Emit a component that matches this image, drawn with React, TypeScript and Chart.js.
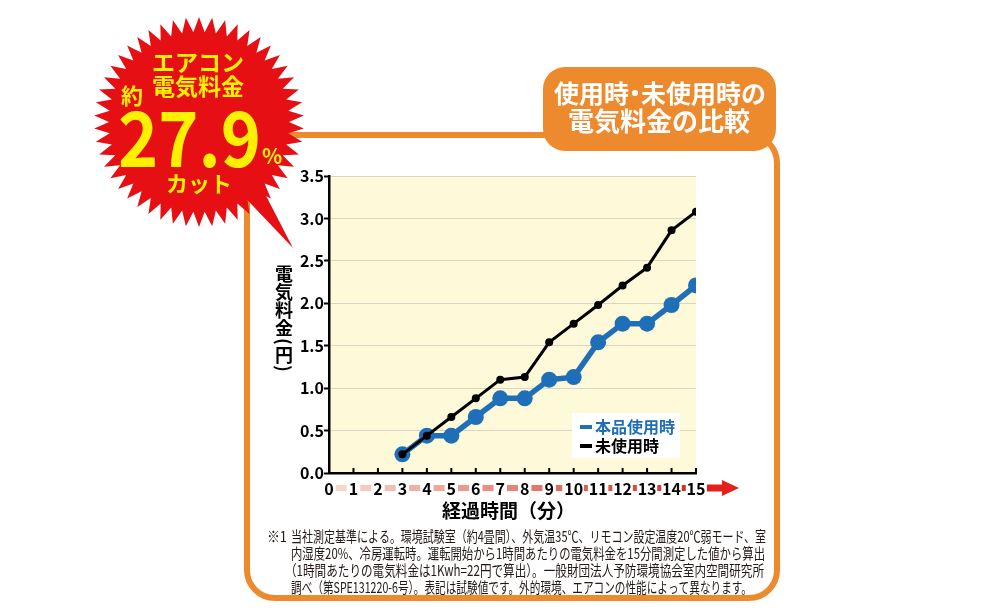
import React, { useEffect, useRef } from "react";
import { Chart, registerables } from "chart.js";

Chart.register(...registerables);

// ---- data ----
const minutes = [3, 4, 5, 6, 7, 8, 9, 10, 11, 12, 13, 14, 15];
const withProduct = [0.22, 0.44, 0.44, 0.66, 0.88, 0.88, 1.1, 1.13, 1.54, 1.76, 1.76, 1.98, 2.21];
const withoutProduct = [0.22, 0.44, 0.66, 0.88, 1.1, 1.13, 1.54, 1.76, 1.98, 2.21, 2.42, 2.86, 3.08];
const seriesLabels = ["本品使用時", "未使用時"];
const xMin = 0;
const xMax = 15;
const yMin = 0;
const yMax = 3.5;
const yStep = 0.5;
const xTitle = "経過時間（分）";
const yTitleChars = ["電", "気", "料", "金", "(", "円", ")"];
const titleLine1 = ["使用時", "・", "未使用時の"];
const titleLine2 = "電気料金の比較";
const badgeTop = ["エアコン", "電気料金"];
const badgePrefix = "約";
const badgeValue = "27.9";
const badgeUnit = "%";
const badgeBottom = "カット";
const footMark = "※1";
const footLines = [
  "当社測定基準による。環境試験室（約4畳間）、外気温35℃、リモコン設定温度20℃弱モード、室",
  "内湿度20%、冷房運転時。運転開始から1時間あたりの電気料金を15分間測定した値から算出",
  "（1時間あたりの電気料金は1Kwh=22円で算出）。一般財団法人予防環境協会室内空間研究所",
  "調べ（第SPE131220-6号）。表記は試験値です。外的環境、エアコンの性能によって異なります。",
];

const FONT = '"Noto Sans CJK JP", "Noto Sans", sans-serif';
const ORANGE = "#EE8A2E";
const RED = "#E60F14";
const YELLOW = "#FFF000";
const BLUE = "#1E6FB7";
const CREAM = "#FEF9D8";

function roundRect(ctx: CanvasRenderingContext2D, x: number, y: number, w: number, h: number, r: number) {
  ctx.beginPath();
  ctx.moveTo(x + r, y);
  ctx.lineTo(x + w - r, y);
  ctx.arcTo(x + w, y, x + w, y + r, r);
  ctx.lineTo(x + w, y + h - r);
  ctx.arcTo(x + w, y + h, x + w - r, y + h, r);
  ctx.lineTo(x + r, y + h);
  ctx.arcTo(x, y + h, x, y + h - r, r);
  ctx.lineTo(x, y + r);
  ctx.arcTo(x, y, x + r, y, r);
  ctx.closePath();
}

function mix(a: number[], b: number[], t: number) {
  const c = a.map((v, i) => Math.round(v + (b[i] - v) * t));
  return `rgb(${c[0]},${c[1]},${c[2]})`;
}

const backPlugin = {
  id: "backPlugin",
  beforeDraw(chart: any) {
    const ctx: CanvasRenderingContext2D = chart.ctx;
    const ca = chart.chartArea;
    ctx.save();
    ctx.fillStyle = "#ffffff";
    ctx.fillRect(0, 0, chart.width, chart.height);

    // outer orange frame
    ctx.strokeStyle = ORANGE;
    ctx.lineWidth = 6;
    roundRect(ctx, 247, 135, 530, 463, 28);
    ctx.stroke();

    // title box
    ctx.fillStyle = ORANGE;
    roundRect(ctx, 543, 67, 233, 84, 22);
    ctx.fill();
    ctx.fillStyle = "#ffffff";
    ctx.textBaseline = "middle";
    ctx.textAlign = "left";
    ctx.font = `bold 25px ${FONT}`;
    // line 1 with a narrow middle dot
    const wA = ctx.measureText(titleLine1[0]).width;
    const wC = ctx.measureText(titleLine1[2]).width;
    const dotW = 12;
    const total = wA + dotW + wC;
    const sc = Math.min(1, 220 / total);
    ctx.save();
    ctx.translate(660 - (total * sc) / 2, 93);
    ctx.scale(sc, 1);
    ctx.fillText(titleLine1[0], 0, 0);
    ctx.beginPath();
    ctx.arc(wA + dotW / 2, 0, 3, 0, Math.PI * 2);
    ctx.fill();
    ctx.fillText(titleLine1[2], wA + dotW, 0);
    ctx.restore();
    ctx.textAlign = "center";
    ctx.font = `bold 26px ${FONT}`;
    ctx.fillText(titleLine2, 659, 121, 204);

    // starburst badge
    const cx = 199, cy = 122, R = 105, r = 90, n = 50;
    ctx.fillStyle = RED;
    ctx.beginPath();
    for (let i = 0; i < n * 2; i++) {
      const a = -Math.PI / 2 + (i * Math.PI) / n;
      const rad = i % 2 === 0 ? R : r;
      const px = cx + rad * Math.cos(a);
      const py = cy + rad * Math.sin(a);
      if (i === 0) ctx.moveTo(px, py);
      else ctx.lineTo(px, py);
    }
    ctx.closePath();
    ctx.fill();
    const a1 = (44 * Math.PI) / 180, a2 = (60 * Math.PI) / 180;
    ctx.beginPath();
    ctx.moveTo(cx + 80 * Math.cos(a1), cy + 80 * Math.sin(a1));
    ctx.lineTo(293, 248);
    ctx.lineTo(cx + 80 * Math.cos(a2), cy + 80 * Math.sin(a2));
    ctx.closePath();
    ctx.fill();

    ctx.fillStyle = YELLOW;
    ctx.textAlign = "center";
    ctx.textBaseline = "middle";
    ctx.font = `bold 23px ${FONT}`;
    ctx.fillText(badgeTop[0], 198, 62);
    ctx.fillText(badgeTop[1], 198, 86);
    ctx.font = `bold 22px ${FONT}`;
    ctx.fillText(badgePrefix, 132, 96);
    ctx.fillText(badgeBottom, 199, 184);
    ctx.textAlign = "left";
    ctx.textBaseline = "alphabetic";
    ctx.font = `bold 76px ${FONT}`;
    ctx.fillText(badgeValue, 118, 167, 143);
    ctx.font = `bold 21px ${FONT}`;
    ctx.fillText(badgeUnit, 262, 164);

    // plot background
    ctx.fillStyle = CREAM;
    ctx.fillRect(ca.left, ca.top, ca.right - ca.left, ca.bottom - ca.top);
    ctx.restore();
  },
};

const frontPlugin = {
  id: "frontPlugin",
  afterDraw(chart: any) {
    const ctx: CanvasRenderingContext2D = chart.ctx;
    const ca = chart.chartArea;
    const xs = chart.scales.x;
    ctx.save();

    // inward tick marks on x axis
    ctx.strokeStyle = "#000";
    ctx.lineWidth = 2;
    for (let v = xMin + 1; v <= xMax; v++) {
      const px = xs.getPixelForValue(v);
      ctx.beginPath();
      ctx.moveTo(px, ca.bottom);
      ctx.lineTo(px, ca.bottom - 5);
      ctx.stroke();
    }

    // gradient dashes between x labels
    ctx.font = `bold 16px ${FONT}`;
    const labelY = 488;
    const c0 = [247, 214, 200];
    const c1 = [214, 48, 38];
    for (let v = xMin; v < xMax; v++) {
      const p0 = xs.getPixelForValue(v);
      const p1 = xs.getPixelForValue(v + 1);
      const w0 = ctx.measureText(String(v)).width / 2;
      const w1 = ctx.measureText(String(v + 1)).width / 2;
      const left = p0 + w0 + 2;
      const right = p1 - w1 - 2;
      let w = Math.min(right - left, 13);
      if (w < 4) w = 4;
      const mid = (left + right) / 2;
      ctx.fillStyle = mix(c0, c1, v / (xMax - 1));
      ctx.fillRect(mid - w / 2, labelY - 3, w, 6);
    }
    // arrow
    const ax = xs.getPixelForValue(xMax) + 11;
    ctx.fillStyle = "#E5201C";
    ctx.fillRect(ax, labelY - 3.5, 17, 7);
    ctx.beginPath();
    ctx.moveTo(ax + 15, labelY - 8);
    ctx.lineTo(ax + 32, labelY);
    ctx.lineTo(ax + 15, labelY + 8);
    ctx.closePath();
    ctx.fill();

    // x title
    ctx.fillStyle = "#000";
    ctx.textAlign = "center";
    ctx.textBaseline = "middle";
    ctx.font = `bold 19px ${FONT}`;
    ctx.fillText(xTitle, (ca.left + ca.right) / 2 - 4, 511);

    // y title (vertical)
    ctx.font = `bold 18px ${FONT}`;
    let cur = 265;
    for (const ch of yTitleChars) {
      const isParen = ch === "(" || ch === ")";
      const adv = isParen ? 9 : 18;
      const cyc = cur + adv / 2;
      if (isParen) {
        ctx.save();
        ctx.translate(284, cyc);
        ctx.rotate(Math.PI / 2);
        ctx.fillText(ch, 0, 0);
        ctx.restore();
      } else {
        ctx.fillText(ch, 284, cyc);
      }
      cur += adv;
    }

    // legend
    ctx.fillStyle = "#ffffff";
    ctx.fillRect(572, 413, 108, 45);
    const ds = chart.data.datasets;
    const rows = [427, 446];
    ctx.textAlign = "left";
    ctx.font = `bold 16px ${FONT}`;
    ds.forEach((d: any, i: number) => {
      ctx.fillStyle = d.borderColor;
      ctx.fillRect(580, rows[i] - 2, 12, 4);
      ctx.fillText(d.label, 595, rows[i], 82);
    });

    // footnote
    ctx.fillStyle = "#231815";
    ctx.font = `15px ${FONT}`;
    ctx.textBaseline = "middle";
    ctx.textAlign = "left";
    const ys = [536, 553, 570, 587];
    const starts = [291, 291, 285, 291];
    const widths = [475, 474, 479, 461];
    ctx.fillText(footMark, 267, ys[0], 20);
    footLines.forEach((t, i) => ctx.fillText(t, starts[i], ys[i], widths[i]));

    ctx.restore();
  },
};

export default function App() {
  const ref = useRef<HTMLCanvasElement>(null);
  useEffect(() => {
    const chart = new Chart(ref.current as HTMLCanvasElement, {
      type: "line",
      data: {
        datasets: [
          {
            label: seriesLabels[0],
            data: minutes.map((m, i) => ({ x: m, y: withProduct[i] })),
            borderColor: BLUE,
            backgroundColor: BLUE,
            borderWidth: 5.5,
            pointRadius: 8,
            pointBorderWidth: 0,
            pointBackgroundColor: BLUE,
            order: 2,
          },
          {
            label: seriesLabels[1],
            data: minutes.map((m, i) => ({ x: m, y: withoutProduct[i] })),
            borderColor: "#000000",
            backgroundColor: "#000000",
            borderWidth: 3,
            pointRadius: 4,
            pointBorderWidth: 0,
            pointBackgroundColor: "#000000",
            order: 1,
          },
        ],
      },
      options: {
        animation: false,
        responsive: false,
        devicePixelRatio: 1,
        layout: { padding: { left: 289, right: 304, top: 176, bottom: 99 } },
        plugins: { legend: { display: false }, tooltip: { enabled: false } },
        scales: {
          x: {
            type: "linear",
            min: xMin,
            max: xMax,
            afterFit: (s: any) => {
              s.height = 40;
            },
            ticks: {
              stepSize: 1,
              autoSkip: false,
              maxRotation: 0,
              padding: 6,
              color: "#000",
              font: { family: FONT, size: 16, weight: "bold" },
            },
            grid: { display: false, drawTicks: false },
            border: { display: true, color: "#000", width: 2.5 },
          },
          y: {
            min: yMin,
            max: yMax,
            afterFit: (s: any) => {
              s.width = 40;
            },
            ticks: {
              stepSize: yStep,
              padding: 0,
              color: "#000",
              callback: (v: any) => Number(v).toFixed(1),
              font: { family: FONT, size: 16, weight: "bold" },
            },
            grid: {
              color: "#DAD6C6",
              lineWidth: 1,
              tickColor: "#000",
              tickLength: 5,
              tickWidth: 2,
            },
            border: { display: true, color: "#000", width: 2.5 },
          },
        },
      } as any,
      plugins: [backPlugin, frontPlugin],
    });
    return () => chart.destroy();
  }, []);
  return (
    <div style={{ position: "fixed", left: 0, top: 0, width: 1000, height: 612, background: "#fff" }}>
      <canvas ref={ref} width={1000} height={612} style={{ display: "block", width: 1000, height: 612 }} />
    </div>
  );
}
